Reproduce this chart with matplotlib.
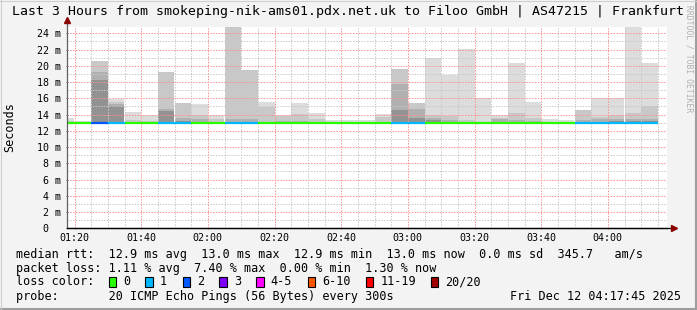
import matplotlib
matplotlib.use("Agg")
import matplotlib.pyplot as plt
from matplotlib.patches import Rectangle
from matplotlib.lines import Line2D
from matplotlib.ticker import FixedLocator, MultipleLocator, FuncFormatter

W, H = 697, 310
MONO = "DejaVu Sans Mono"

# 5 minute bins, start time in minutes after midnight (01:15 .. 04:10)
bin_start = list(range(75, 255, 5))
median_ms = [13.0, 13.0, 12.9, 13.0, 13.0, 13.0, 12.9, 13.0, 13.0, 13.0, 12.9, 13.0,
             13.0, 13.0, 13.0, 13.0, 13.0, 13.0, 13.0, 13.0, 12.9, 13.0, 13.0, 13.0,
             13.0, 13.0, 13.0, 13.0, 13.0, 13.0, 13.0, 12.9, 12.9, 12.9, 13.0, 13.0]
loss_pings = [0, 0, 2, 1, 0, 0, 1, 1, 0, 0, 1, 1, 0, 0, 0, 0, 0, 0,
              0, 0, 1, 1, 0, 0, 0, 0, 0, 0, 0, 0, 0, 1, 1, 1, 1, 1]
# smoke layers (ms): outer max, then inner quantile bands
smoke_max = [13.6, 13.2, 20.6, 15.9, 14.3, 13.9, 19.2, 15.4, 15.3, 14.0, 25.0, 19.5,
             15.6, 14.0, 15.4, 14.15, 13.3, 13.3, 13.3, 14.1, 19.6, 15.4, 21.0, 18.9,
             22.1, 16.0, 13.9, 20.4, 15.6, 13.4, 13.3, 14.5, 16.0, 16.0, 25.0, 20.3]
smoke_q3 = [13.2, 13.1, 20.6, 15.6, 13.3, 13.2, 19.2, 15.4, 13.9, 13.4, 25.0, 19.5,
            14.9, 13.8, 14.1, 13.5, 13.1, 13.1, 13.1, 13.7, 19.6, 15.4, 14.0, 13.8,
            13.3, 13.1, 13.6, 14.2, 13.6, 13.1, 13.0, 14.5, 13.7, 14.0, 14.2, 15.1]
smoke_q2 = [13.0, 13.0, 19.2, 15.3, 13.1, 13.0, 14.7, 13.6, 13.5, 13.1, 13.4, 13.4,
            13.1, 13.2, 13.2, 13.1, 13.0, 13.0, 13.0, 13.1, 17.7, 14.7, 13.6, 13.3,
            13.1, 13.0, 13.4, 13.3, 13.2, 13.0, 13.0, 13.3, 13.4, 13.4, 13.5, 13.4]
smoke_q1 = [13.0, 13.0, 18.2, 15.1, 13.0, 13.0, 14.4, 13.2, 13.1, 13.0, 13.1, 13.1,
            13.0, 13.0, 13.0, 13.0, 13.0, 13.0, 13.0, 13.0, 14.5, 13.6, 13.3, 13.1,
            13.0, 13.0, 13.1, 13.1, 13.0, 13.0, 13.0, 13.1, 13.1, 13.2, 13.2, 13.2]
smoke_min = 12.9

loss_labels = ["0", "1", "2", "3", "4-5", "6-10", "11-19", "20/20"]
loss_colors = ["#26ff00", "#00b8ff", "#0059ff", "#7e00ff", "#ff00ff", "#ff5500", "#ff0000", "#a10000"]
loss_box_x = [108.7, 145.3, 182.7, 219.3, 256.0, 307.7, 365.7, 430.7]

title = "Last 3 Hours from smokeping-nik-ams01.pdx.net.uk to Filoo GmbH | AS47215 | Frankfurt"
legend_lines = [
    "median rtt:  12.9 ms avg  13.0 ms max  12.9 ms min  13.0 ms now  0.0 ms sd  345.7   am/s",
    "packet loss: 1.11 % avg  7.40 % max  0.00 % min  1.30 % now",
    "loss color:",
    "probe:       20 ICMP Echo Pings (56 Bytes) every 300s",
]
stamp = "Fri Dec 12 04:17:45 2025"

t_start, t_end = 77.75, 257.75
y_max = 24.74


def fx(px):
    return px / W


def fy(py):
    return 1 - py / H


fig = plt.figure(figsize=(W / 100, H / 100), dpi=100, facecolor="#f3f3f3")
ax = fig.add_axes([fx(67), fy(228.3), 600 / W, (228.3 - 27.3) / H])
ax.set_facecolor("white")

# smoke
for level, col in [(smoke_max, "#dcdcdc"), (smoke_q3, "#c8c8c8"),
                   (smoke_q2, "#b0b0b0"), (smoke_q1, "#929292")]:
    heights = [max(v - smoke_min, 0) for v in level]
    ax.bar(bin_start, heights, width=5, bottom=smoke_min, align="edge",
           color=col, linewidth=0, zorder=2)

# median line coloured by loss
for t, m, l in zip(bin_start, median_ms, loss_pings):
    ax.hlines(m, t, t + 5, colors=loss_colors[min(l, 7)], linewidth=1.6, zorder=5)

ax.set_xlim(t_start, t_end)
ax.set_ylim(0, y_max)

# grid
ax.xaxis.set_major_locator(FixedLocator(list(range(80, 257, 20))))
ax.xaxis.set_minor_locator(MultipleLocator(5))
ax.yaxis.set_major_locator(MultipleLocator(2))
ax.yaxis.set_minor_locator(MultipleLocator(1))
ax.grid(which="minor", color="#c8c8c8", linestyle=(0, (1.4, 1.4)), linewidth=0.72, zorder=3)
ax.grid(which="major", color="#ff9090", linestyle=(0, (1.4, 1.4)), linewidth=0.72, zorder=4)
ax.set_axisbelow(False)

ax.xaxis.set_major_formatter(FuncFormatter(lambda v, p: "%02d:%02d" % (int(v) // 60, int(v) % 60)))
ax.yaxis.set_major_formatter(FuncFormatter(lambda v, p: "0  " if v == 0 else "%d m" % v))
ax.tick_params(which="both", labelsize=7.2, color="#808080", length=2, width=0.72,
               direction="inout")
ax.tick_params(which="minor", length=0)
ax.tick_params(axis="x", pad=2.5)
ax.tick_params(axis="y", pad=3.5)
for lab in ax.get_xticklabels() + ax.get_yticklabels():
    lab.set_fontfamily(MONO)

for s in ["top", "right"]:
    ax.spines[s].set_visible(False)
ax.spines["left"].set_color("#606060")
ax.spines["bottom"].set_color("black")
ax.spines["left"].set_linewidth(0.9)
ax.spines["bottom"].set_linewidth(0.9)
ax.spines["left"].set_bounds(0, y_max + 0.5)
ax.spines["left"].set_zorder(6)

# axis arrows
fig.add_artist(Line2D([fx(67)], [fy(20)], marker="^", markersize=4.5, color="#8b0000",
                      linestyle="none"))
fig.add_artist(Line2D([fx(67), fx(672)], [fy(228.3), fy(228.3)], color="black", lw=0.9))
fig.add_artist(Line2D([fx(674)], [fy(228.3)], marker=">", markersize=4.5, color="#8b0000",
                      linestyle="none"))

# y axis label
fig.text(fx(10), fy(127), "Seconds", rotation=90, ha="center", va="center",
         family=MONO, fontsize=8.5)

# title and watermark
fig.text(fx(12.5), fy(12), title, ha="left", va="center", family=MONO, fontsize=9.5)
fig.text(fx(689), fy(5), "RRDTOOL / TOBI OETIKER", rotation=270, ha="center", va="top",
         family=MONO, fontsize=5.8, color="#b0b0b0")

# legend lines
line_y = [254.3, 268.3, 281.7, 296.3]
for txt, yy in zip(legend_lines, line_y):
    fig.text(fx(16), fy(yy), txt, ha="left", va="center", family=MONO, fontsize=8.5)
fig.text(fx(681), fy(line_y[3]), stamp, ha="right", va="center", family=MONO, fontsize=8.5)

for bx, lab, col in zip(loss_box_x, loss_labels, loss_colors):
    fig.add_artist(Rectangle((fx(bx), fy(286.5)), 7.5 / W, 9.5 / H, facecolor=col,
                             edgecolor="black", linewidth=0.8, transform=fig.transFigure))
    fig.text(fx(bx + 14.6), fy(line_y[2]), lab, ha="left", va="center", family=MONO,
             fontsize=8.5)

# image border shading
fig.add_artist(Line2D([0, 1], [fy(309), fy(309)], color="#9e9e9e", lw=1.5))
fig.add_artist(Line2D([fx(696), fx(696)], [0, 1], color="#9e9e9e", lw=1.5))
fig.add_artist(Line2D([0, 1], [fy(0.5), fy(0.5)], color="#cfcfcf", lw=0.8))
fig.add_artist(Line2D([fx(0.5), fx(0.5)], [0, 1], color="#cfcfcf", lw=0.8))

fig.savefig("out.png", dpi=100, facecolor=fig.get_facecolor())
